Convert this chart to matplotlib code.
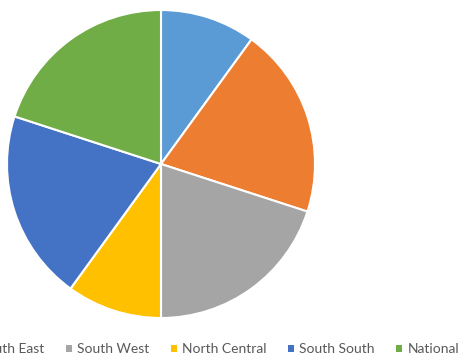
import matplotlib
matplotlib.use('Agg')
import matplotlib.pyplot as plt

labels = ['North West', 'South East', 'South West', 'North Central', 'South South', 'National']
values = [10, 20, 20, 10, 20, 20]
colors = ['#5B9BD5', '#ED7D31', '#A5A5A5', '#FFC000', '#4472C4', '#70AD47']

fig = plt.figure(figsize=(4.65, 3.6), dpi=100)
ax = fig.add_axes([7 / 465, 1 - 318 / 360, 308 / 465, 308 / 360])

wedges, _ = ax.pie(values, colors=colors, startangle=90, counterclock=False,
                   wedgeprops=dict(edgecolor='white', linewidth=1.5))
ax.set_xlim(-1.0, 1.0)
ax.set_ylim(-1.0, 1.0)
ax.set_aspect('equal')

# legend runs off the left edge, like the cropped reference
leg = fig.legend(wedges, labels, loc='center right', ncol=len(labels),
                 bbox_to_anchor=(459 / 465, 1 - 349 / 360), frameon=False,
                 borderpad=0, borderaxespad=0, prop={'family': 'Lato', 'size': 10},
                 handlelength=0.4, handleheight=0.4, handletextpad=0.4,
                 columnspacing=1.55, labelcolor='#595959')
for h in leg.legend_handles:
    h.set_edgecolor('none')

fig.savefig('out.png', dpi=100)
